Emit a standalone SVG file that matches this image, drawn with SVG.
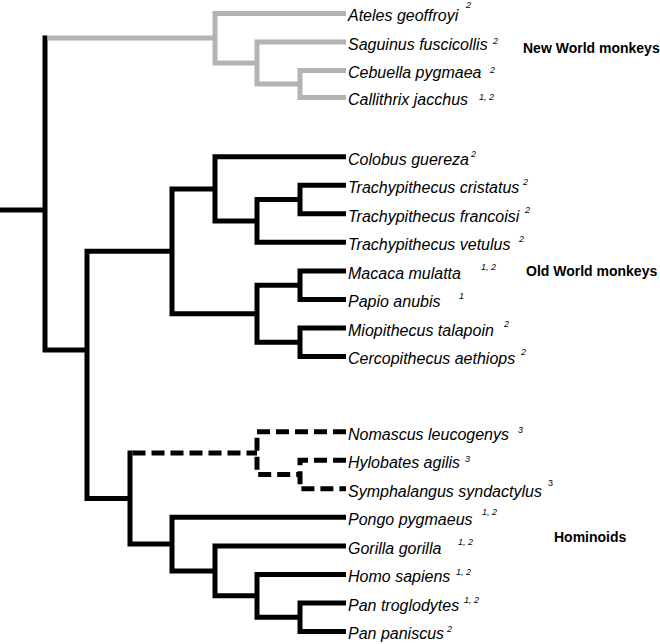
<svg xmlns="http://www.w3.org/2000/svg" width="660" height="644" viewBox="0 0 660 644">
<style>
.b{fill:none;stroke:#000;stroke-width:5;stroke-linejoin:miter;stroke-linecap:butt}
.g{fill:none;stroke:#b3b3b3;stroke-width:5;stroke-linejoin:miter;stroke-linecap:butt}
.d{fill:none;stroke:#000;stroke-width:5;stroke-linejoin:miter;stroke-linecap:butt;stroke-dasharray:13 6}
.t{font-family:"Liberation Sans",Arial,sans-serif;font-size:16px;font-style:italic;fill:#000}
.s{font-family:"Liberation Sans",Arial,sans-serif;font-size:9px;font-style:italic;fill:#000}
.sn{font-family:"Liberation Sans",Arial,sans-serif;font-size:9px;fill:#000}
.h{font-family:"Liberation Sans",Arial,sans-serif;font-size:14px;font-weight:bold;fill:#000}
</style>
<rect width="660" height="644" fill="#fff"/>
<g id="connectors">
<path class="b" d="M0 210H45"/>
<path class="b" d="M45 35.5V350H87"/>
<path class="g" d="M47.5 38H215"/>
<path class="g" d="M346 13.5H215V63H257"/>
<path class="g" d="M346 42H257V84H300"/>
<path class="g" d="M346 70.5H300V97.5H346"/>
<path class="b" d="M172 251.3H87V498.5H130"/>
<path class="b" d="M215 189H172V313.7H257"/>
<path class="b" d="M346 156.7H215V221H257"/>
<path class="b" d="M300 199.5H257V242.35H346"/>
<path class="b" d="M346 185.25H300V213.8H346"/>
<path class="b" d="M300 285.2H257V342.3H300"/>
<path class="b" d="M346 270.9H300V299.45H346"/>
<path class="b" d="M346 328H300V356.55H346"/>
<path class="b" d="M130 450.5V544.1H172"/>
<path class="d" d="M132.5 453H257"/>
<path class="d" d="M346 431.7H257V474.5H300"/>
<path class="d" d="M346 460.2H300V488.8H346"/>
<path class="b" d="M346 517.3H172V570.9H215"/>
<path class="b" d="M346 545.9H215V595.8H257"/>
<path class="b" d="M346 574.4H257V617.3H300"/>
<path class="b" d="M346 603H300V631.5H346"/>
</g>
<g id="ateles"><text class="t" x="348" y="21.3">Ateles geoffroyi</text><text class="s" x="466" y="7.5">2</text></g>
<g id="saguinus"><text class="t" x="348" y="49.8">Saguinus fuscicollis</text><text class="s" x="493" y="43.5">2</text></g>
<g id="cebuella"><text class="t" x="348" y="78.3">Cebuella pygmaea</text><text class="s" x="490" y="72.5">2</text></g>
<g id="callithrix"><text class="t" x="348" y="105.3">Callithrix jacchus</text><text class="s" x="479" y="99.5">1, 2</text></g>
<g id="colobus"><text class="t" x="348" y="164.5">Colobus guereza</text><text class="s" x="471" y="157">2</text></g>
<g id="t-cristatus"><text class="t" x="348" y="193">Trachypithecus cristatus</text><text class="s" x="523" y="185">2</text></g>
<g id="t-francoisi"><text class="t" x="348" y="221.6">Trachypithecus francoisi</text><text class="s" x="525" y="213">2</text></g>
<g id="t-vetulus"><text class="t" x="348" y="250.1">Trachypithecus vetulus</text><text class="s" x="519" y="241.5">2</text></g>
<g id="macaca"><text class="t" x="348" y="278.7">Macaca mulatta</text><text class="s" x="481" y="270">1, 2</text></g>
<g id="papio"><text class="t" x="348" y="307.2">Papio anubis</text><text class="s" x="459" y="298.5">1</text></g>
<g id="miopithecus"><text class="t" x="348" y="335.8">Miopithecus talapoin</text><text class="s" x="504" y="326.5">2</text></g>
<g id="cercopithecus"><text class="t" x="348" y="364.3">Cercopithecus aethiops</text><text class="s" x="521" y="355">2</text></g>
<g id="nomascus"><text class="t" x="348" y="439.5">Nomascus leucogenys</text><text class="s" x="518" y="433">3</text></g>
<g id="hylobates"><text class="t" x="348" y="468">Hylobates agilis</text><text class="s" x="465" y="461.5">3</text></g>
<g id="symphalangus"><text class="t" x="348" y="496.6">Symphalangus syndactylus</text><text class="sn" x="548" y="486">3</text></g>
<g id="pongo"><text class="t" x="348" y="525.1">Pongo pygmaeus</text><text class="s" x="482" y="515">1, 2</text></g>
<g id="gorilla"><text class="t" x="348" y="553.7">Gorilla gorilla</text><text class="s" x="458" y="545">1, 2</text></g>
<g id="homo"><text class="t" x="348" y="582.2">Homo sapiens</text><text class="s" x="456" y="575">1, 2</text></g>
<g id="pan-troglodytes"><text class="t" x="348" y="610.8">Pan troglodytes</text><text class="s" x="464" y="602.5">1, 2</text></g>
<g id="pan-paniscus"><text class="t" x="348" y="639.3">Pan paniscus</text><text class="s" x="447" y="631.5">2</text></g>
<g id="group-new-world"><text class="h" x="523" y="52.5">New World monkeys</text></g>
<g id="group-old-world"><text class="h" x="526" y="275.7">Old World monkeys</text></g>
<g id="group-hominoids"><text class="h" x="554" y="541.5">Hominoids</text></g>
</svg>
